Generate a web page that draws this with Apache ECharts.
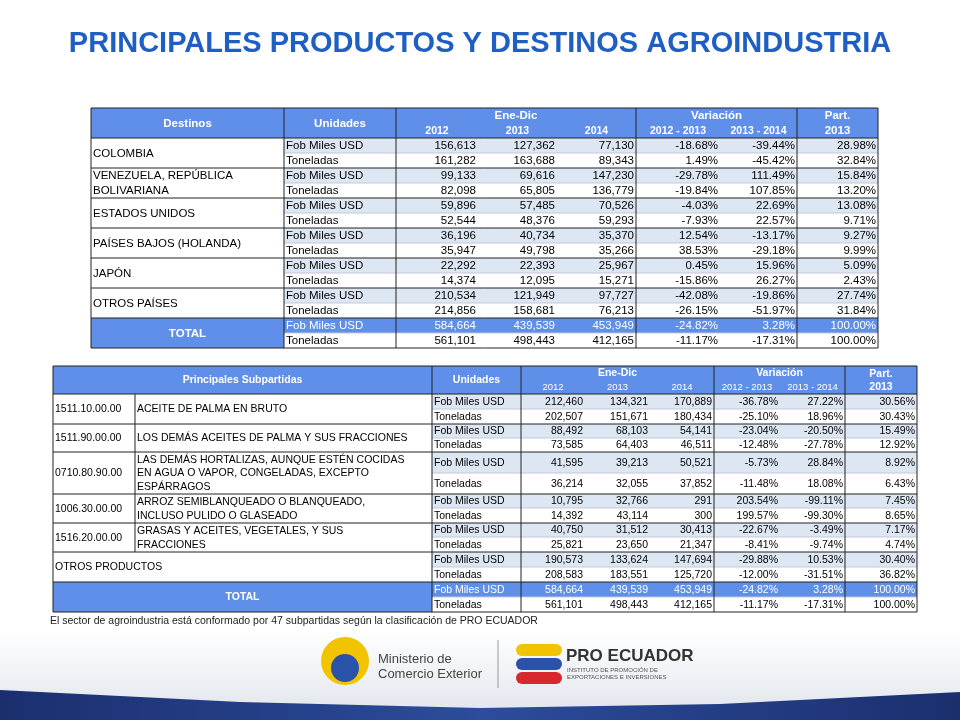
<!DOCTYPE html>
<html>
<head>
<meta charset="utf-8">
<script src="https://cdn.jsdelivr.net/npm/echarts@6/dist/echarts.min.js"></script>
<style>html,body{margin:0;padding:0;background:#fff}#main{width:960px;height:720px}</style>
</head>
<body>
<div id="main"></div>
<script>
// ---- data: tabla 1 (destinos) ----
var destinos = ['COLOMBIA', 'VENEZUELA, REPÚBLICA\nBOLIVARIANA', 'ESTADOS UNIDOS', 'PAÍSES BAJOS (HOLANDA)', 'JAPÓN', 'OTROS PAÍSES'];
var destFob = [[156613,127362,77130],[99133,69616,147230],[59896,57485,70526],[36196,40734,35370],[22292,22393,25967],[210534,121949,97727]];
var destFobVar = [[-18.68,-39.44,28.98],[-29.78,111.49,15.84],[-4.03,22.69,13.08],[12.54,-13.17,9.27],[0.45,15.96,5.09],[-42.08,-19.86,27.74]];
var destTon = [[161282,163688,89343],[82098,65805,136779],[52544,48376,59293],[35947,49798,35266],[14374,12095,15271],[214856,158681,76213]];
var destTonVar = [[1.49,-45.42,32.84],[-19.84,107.85,13.20],[-7.93,22.57,9.71],[38.53,-29.18,9.99],[-15.86,26.27,2.43],[-26.15,-51.97,31.84]];

// ---- data: tabla 2 (subpartidas) ----
var codigos = ['1511.10.00.00', '1511.90.00.00', '0710.80.90.00', '1006.30.00.00', '1516.20.00.00', ''];
var productos = ['ACEITE DE PALMA EN BRUTO', 'LOS DEMÁS ACEITES DE PALMA Y SUS FRACCIONES',
  'LAS DEMÁS HORTALIZAS, AUNQUE ESTÉN COCIDAS\nEN AGUA O VAPOR, CONGELADAS, EXCEPTO\nESPÁRRAGOS',
  'ARROZ SEMIBLANQUEADO O BLANQUEADO,\nINCLUSO PULIDO O GLASEADO', 'GRASAS Y ACEITES, VEGETALES, Y SUS\nFRACCIONES', 'OTROS PRODUCTOS'];
var prodFob = [[212460,134321,170889],[88492,68103,54141],[41595,39213,50521],[10795,32766,291],[40750,31512,30413],[190573,133624,147694]];
var prodFobVar = [[-36.78,27.22,30.56],[-23.04,-20.50,15.49],[-5.73,28.84,8.92],[203.54,-99.11,7.45],[-22.67,-3.49,7.17],[-29.88,10.53,30.40]];
var prodTon = [[202507,151671,180434],[73585,64403,46511],[36214,32055,37852],[14392,43114,300],[25821,23650,21347],[208583,183551,125720]];
var prodTonVar = [[-25.10,18.96,30.43],[-12.48,-27.78,12.92],[-11.48,18.08,6.43],[199.57,-99.30,8.65],[-8.41,-9.74,4.74],[-12.00,-31.51,36.82]];

// ---- totales ----
var totalFob = [584664,439539,453949];
var totalFobVar = [-24.82,3.28,100.00];
var totalTon = [561101,498443,412165];
var totalTonVar = [-11.17,-17.31,100.00];

var years = ['2012', '2013', '2014'];
var periods = ['2012 - 2013', '2013 - 2014'];
var unidades = ['Fob Miles USD', 'Toneladas'];

var BLUE = '#5f8fe8', ROWFILL = '#dde6f3';
var FONT = '"Liberation Sans Narrow", "Arial Narrow", "Liberation Sans", Arial, sans-serif';

function fmtN(v) { return v.toLocaleString('en-US'); }
function fmtP(v) { return v.toFixed(2) + '%'; }

// builds cells + rules for a table. cols = column edges, labelCols = 1 or 2
function buildTable(cfg) {
  var cells = [], rules = [];
  var cols = cfg.cols, L = cfg.labelCols, W = cols[cols.length - 1];
  var uc = L, nc = L + 1;
  var hh = cfg.headH, fs = cfg.fontSize;
  function cell(c0, c1, y0, y1, text, o) {
    o = o || {};
    cells.push({ value: [cols[c0], cols[c1], y0, y1], text: text, fill: o.fill || null,
      color: o.color || '#000', align: o.align || 'left', bold: !!o.bold, size: o.size || fs });
  }
  // header
  cell(0, L, 0, hh, cfg.headLabel, { fill: BLUE, color: '#fff', align: 'center', bold: true });
  cell(uc, uc + 1, 0, hh, 'Unidades', { fill: BLUE, color: '#fff', align: 'center', bold: true });
  cell(nc, nc + 3, 0, hh / 2, 'Ene-Dic', { fill: BLUE, color: '#fff', align: 'center', bold: true });
  years.forEach(function (y, i) {
    cell(nc + i, nc + i + 1, hh / 2, hh, y, { fill: BLUE, color: '#fff', align: 'center', bold: cfg.boldYears, size: fs - 1 });
  });
  cell(nc + 3, nc + 5, 0, hh / 2, 'Variación', { fill: BLUE, color: '#fff', align: 'center', bold: true });
  periods.forEach(function (p, i) {
    cell(nc + 3 + i, nc + 4 + i, hh / 2, hh, p, { fill: BLUE, color: '#fff', align: 'center', bold: cfg.boldYears, size: fs - 1 });
  });
  cell(nc + 5, nc + 6, 0, hh, 'Part.\n2013', { fill: BLUE, color: '#fff', align: 'center', bold: true });
  rules.push([0, 0, W, 0], [0, hh, W, hh], [0, 0, 0, hh], [W, 0, W, hh]);
  [uc, nc, nc + 3, nc + 5].forEach(function (c) { rules.push([cols[c], 0, cols[c], hh]); });

  var y = hh;
  cfg.groups.forEach(function (g, gi) {
    var h1 = cfg.rowH[gi * 2], h2 = cfg.rowH[gi * 2 + 1];
    var total = g.total;
    var lf = total ? { fill: BLUE, color: '#fff', align: 'center', bold: true } : {};
    if (g.code) {
      cell(0, 1, y, y + h1 + h2, g.code);
      cell(1, L, y, y + h1 + h2, g.label);
      rules.push([cols[1], y, cols[1], y + h1 + h2]);
    } else {
      cell(0, L, y, y + h1 + h2, g.label, lf);
    }
    var rows = [[g.fob, g.fobVar, h1], [g.ton, g.tonVar, h2]];
    var yy = y;
    rows.forEach(function (r, ri) {
      var o = ri === 0 ? (total ? { fill: BLUE, color: '#fff' } : { fill: ROWFILL }) : {};
      cell(uc, uc + 1, yy, yy + r[2], unidades[ri], o);
      r[0].forEach(function (v, i) { cell(nc + i, nc + i + 1, yy, yy + r[2], fmtN(v), Object.assign({ align: 'right' }, o)); });
      r[1].forEach(function (v, i) { cell(nc + 3 + i, nc + 4 + i, yy, yy + r[2], fmtP(v), Object.assign({ align: 'right' }, o)); });
      yy += r[2];
    });
    rules.push({ v: [cols[uc], y + h1, W, y + h1], light: true });
    y += h1 + h2;
    rules.push([0, y, W, y]);
    [0, uc, nc, nc + 3, nc + 5].forEach(function (c) { rules.push([cols[c], y - h1 - h2, cols[c], y]); });
    rules.push([W, y - h1 - h2, W, y]);
  });
  return { cells: cells, rules: rules, W: W, H: y };
}

var groups1 = destinos.map(function (d, i) {
  return { label: d, fob: destFob[i], fobVar: destFobVar[i], ton: destTon[i], tonVar: destTonVar[i] };
});
groups1.push({ label: 'TOTAL', total: true, fob: totalFob, fobVar: totalFobVar, ton: totalTon, tonVar: totalTonVar });

var groups2 = productos.map(function (p, i) {
  return { code: codigos[i], label: p, fob: prodFob[i], fobVar: prodFobVar[i], ton: prodTon[i], tonVar: prodTonVar[i] };
});
groups2.push({ label: 'TOTAL', total: true, fob: totalFob, fobVar: totalFobVar, ton: totalTon, tonVar: totalTonVar });

var t1 = buildTable({ cols: [0,193,305,387,466,545,629,706,787], labelCols: 1, headH: 30, fontSize: 11.5,
  headLabel: 'Destinos', boldYears: true, groups: groups1, rowH: [15,15,15,15,15,15,15,15,15,15,15,15,15,15] });
var t2 = buildTable({ cols: [0,82,379,468,532,597,661,727,792,864], labelCols: 2, headH: 28, fontSize: 10.5,
  headLabel: 'Principales Subpartidas', boldYears: false, groups: groups2, rowH: [15,15,14,14,21,21,14,15,14,15,15,15,15,15] });

function cellSeries(t, gi) {
  return {
    type: 'custom', xAxisIndex: gi, yAxisIndex: gi, silent: true, z: 2,
    data: t.cells.map(function (c) { return c.value; }),
    renderItem: function (params, api) {
      var c = t.cells[params.dataIndex];
      var p0 = api.coord([c.value[0], c.value[2]]), p1 = api.coord([c.value[1], c.value[3]]);
      var children = [];
      if (c.fill) children.push({ type: 'rect', shape: { x: p0[0], y: p0[1], width: p1[0] - p0[0], height: p1[1] - p0[1] }, style: { fill: c.fill } });
      var tx = c.align === 'center' ? (p0[0] + p1[0]) / 2 : c.align === 'right' ? p1[0] - 2 : p0[0] + 2;
      children.push({ type: 'text', style: { text: c.text, x: tx, y: (p0[1] + p1[1]) / 2 + 0.5, align: c.align, verticalAlign: 'middle',
        fill: c.color, font: (c.bold ? 'bold ' : '') + c.size + 'px ' + FONT, lineHeight: c.size + 3 } });
      return { type: 'group', children: children };
    }
  };
}
function ruleSeries(t, gi) {
  return {
    type: 'custom', xAxisIndex: gi, yAxisIndex: gi, silent: true, z: 3,
    data: t.rules.map(function (r, i) { return i; }),
    renderItem: function (params, api) {
      var r = t.rules[params.dataIndex], light = !!r.light, v = r.v || r;
      var a = api.coord([v[0], v[1]]), b = api.coord([v[2], v[3]]);
      return { type: 'line', shape: { x1: a[0], y1: a[1], x2: b[0], y2: b[1] },
        style: { stroke: light ? '#c4cbd6' : '#222', lineWidth: 1 } };
    }
  };
}
function axes(t) {
  return {
    x: { type: 'value', min: 0, max: t.W, show: false },
    y: { type: 'value', min: 0, max: t.H, inverse: true, show: false }
  };
}
var a1 = axes(t1), a2 = axes(t2);

var chart = echarts.init(document.getElementById('main'));
chart.setOption({
  animation: false,
  backgroundColor: '#fff',
  title: { text: 'PRINCIPALES PRODUCTOS Y DESTINOS AGROINDUSTRIA', left: 'center', top: 24,
    textStyle: { color: '#1f5fc4', fontSize: 29, fontWeight: 'bold', fontFamily: FONT } },
  grid: [
    { left: 91, top: 108, width: t1.W, height: t1.H },
    { left: 53, top: 366, width: t2.W, height: t2.H }
  ],
  xAxis: [a1.x, Object.assign({ gridIndex: 1 }, a2.x)],
  yAxis: [a1.y, Object.assign({ gridIndex: 1 }, a2.y)],
  series: [cellSeries(t1, 0), ruleSeries(t1, 0), cellSeries(t2, 1), ruleSeries(t2, 1)],
  graphic: [
    { type: 'text', left: 50, top: 616, style: { text: 'El sector de agroindustria está conformado por 47 subpartidas según la clasificación de PRO ECUADOR',
      font: '10.5px "Liberation Sans", Arial, sans-serif', fill: '#222' } },
    { type: 'rect', left: 0, top: 632, shape: { width: 960, height: 88 },
      style: { fill: new echarts.graphic.LinearGradient(0, 0, 0, 1, [{ offset: 0, color: '#ffffff' }, { offset: 1, color: '#dfe3ea' }]) }, z: -1 },
    { type: 'polygon', shape: { points: [[0,690],[240,702],[480,708],[720,704],[960,692],[960,720],[0,720]] },
      style: { fill: new echarts.graphic.LinearGradient(0, 0, 1, 0, [{ offset: 0, color: '#1b2f6e' }, { offset: 0.5, color: '#2c4c9c' }, { offset: 1, color: '#1b2f6e' }]) } },
    { type: 'circle', shape: { cx: 345, cy: 661, r: 24 }, style: { fill: '#f2c400' } },
    { type: 'circle', shape: { cx: 345, cy: 668, r: 14 }, style: { fill: '#2a52a8' } },
    { type: 'text', left: 378, top: 652, style: { text: 'Ministerio de\nComercio Exterior', font: '13px "Liberation Sans", Arial', fill: '#444', lineHeight: 15 } },
    { type: 'line', shape: { x1: 498, y1: 640, x2: 498, y2: 688 }, style: { stroke: '#999', lineWidth: 1 } },
    { type: 'rect', shape: { x: 516, y: 644, width: 46, height: 12, r: 6 }, style: { fill: '#f2c400' } },
    { type: 'rect', shape: { x: 516, y: 658, width: 46, height: 12, r: 6 }, style: { fill: '#2a52a8' } },
    { type: 'rect', shape: { x: 516, y: 672, width: 46, height: 12, r: 6 }, style: { fill: '#d8272d' } },
    { type: 'text', left: 566, top: 648, style: { text: 'PRO ECUADOR', font: 'bold 17px "Liberation Sans", Arial', fill: '#333' } },
    { type: 'text', left: 567, top: 667, style: { text: 'INSTITUTO DE PROMOCIÓN DE\nEXPORTACIONES E INVERSIONES', font: '6px "Liberation Sans", Arial', fill: '#555', lineHeight: 7 } }
  ]
});
</script>
</body>
</html>
